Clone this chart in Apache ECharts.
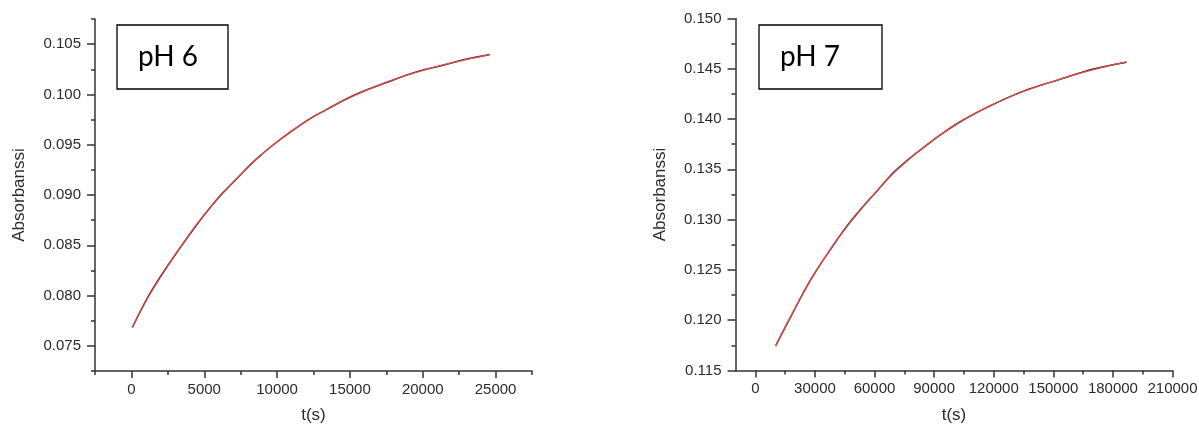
<!DOCTYPE html>
<html>
<head>
<meta charset="utf-8">
<script src="https://cdn.jsdelivr.net/npm/echarts@6/dist/echarts.min.js"></script>
<style>
  html, body { margin: 0; padding: 0; background: #fff; }
  #chart { width: 1199px; height: 426px; }
</style>
</head>
<body>
<div id="chart"></div>
<script>
// pH 6 kinetics: time (s) and absorbance, measured trace and fitted curve
const ph6Time = [70, 1550, 4080, 5800, 7060, 8550, 10040, 12100, 13480, 15310, 17610, 19440, 21270, 23110, 24600];
const ph6Fit  = [0.0769, 0.0808, 0.0863, 0.0894, 0.0914, 0.0935, 0.09535, 0.09742, 0.09858, 0.09990, 0.10127, 0.10215, 0.10289, 0.10350, 0.10395];
const ph6Data = [0.07683, 0.08088, 0.08624, 0.08945, 0.09136, 0.09354, 0.09532, 0.09745, 0.09856, 0.09994, 0.10124, 0.10219, 0.10286, 0.10354, 0.10397];

// pH 7 kinetics
const ph7Time = [10200, 17740, 27790, 37840, 47890, 61300, 71350, 86430, 101500, 118240, 134970, 153400, 170150, 186930];
const ph7Fit  = [0.11742, 0.12036, 0.12396, 0.12708, 0.12976, 0.13289, 0.13496, 0.13747, 0.13950, 0.14134, 0.14274, 0.14398, 0.14492, 0.14568];
const ph7Data = [0.11745, 0.12031, 0.12401, 0.12705, 0.12981, 0.13286, 0.13502, 0.13744, 0.13955, 0.14131, 0.14278, 0.14395, 0.14497, 0.14566];

// Axis ticks and labels
const ph6XMajor = [0, 5000, 10000, 15000, 20000, 25000];
const ph6XMinor = [-2500, 2500, 7500, 12500, 17500, 22500, 27500];
const ph6YMajor = [0.075, 0.080, 0.085, 0.090, 0.095, 0.100, 0.105];
const ph6YMinor = [0.0725, 0.0775, 0.0825, 0.0875, 0.0925, 0.0975, 0.1025, 0.1075];
const ph7XMajor = [0, 30000, 60000, 90000, 120000, 150000, 180000, 210000];
const ph7XMinor = [15000, 45000, 75000, 105000, 135000, 165000, 195000];
const ph7YMajor = [0.115, 0.120, 0.125, 0.130, 0.135, 0.140, 0.145, 0.150];
const ph7YMinor = [0.1175, 0.1225, 0.1275, 0.1325, 0.1375, 0.1425, 0.1475];

const panelLabels = ['pH 6', 'pH 7'];
const xName = 't(s)';
const yName = 'Absorbanssi';

const AXIS_COLOR = '#333';
const LABEL_COLOR = '#2b2b2b';
const FONT = '"Liberation Sans", Arial, sans-serif';

function pair(xs, ys) { return xs.map((x, i) => [x, ys[i]]); }

function majorX(grid, min, max, ticks) {
  return {
    type: 'value', gridIndex: grid, position: 'bottom', min, max,
    name: xName, nameLocation: 'middle', nameGap: 36,
    nameTextStyle: { fontFamily: FONT, fontSize: 17, color: LABEL_COLOR },
    axisLine: { show: true, onZero: false, lineStyle: { color: AXIS_COLOR, width: 1.5 } },
    axisTick: { show: true, customValues: ticks, length: 7, lineStyle: { color: AXIS_COLOR, width: 1.5 } },
    axisLabel: { show: true, customValues: ticks, margin: 11, fontFamily: FONT, fontSize: 15, color: LABEL_COLOR,
                 formatter: v => String(v) },
    splitLine: { show: false }
  };
}
function minorX(grid, min, max, ticks) {
  return {
    type: 'value', gridIndex: grid, position: 'bottom', min, max,
    axisLine: { show: false, onZero: false },
    axisTick: { show: true, customValues: ticks, length: 4, lineStyle: { color: AXIS_COLOR, width: 1.5 } },
    axisLabel: { show: false }, splitLine: { show: false }
  };
}
function majorY(grid, min, max, ticks) {
  return {
    type: 'value', gridIndex: grid, position: 'left', min, max,
    name: yName, nameLocation: 'middle', nameGap: 67, nameRotate: 90,
    nameTextStyle: { fontFamily: FONT, fontSize: 17, color: LABEL_COLOR },
    axisLine: { show: true, onZero: false, lineStyle: { color: AXIS_COLOR, width: 1.5 } },
    axisTick: { show: true, customValues: ticks, length: 8, lineStyle: { color: AXIS_COLOR, width: 1.5 } },
    axisLabel: { show: true, customValues: ticks, margin: 14, fontFamily: FONT, fontSize: 15, color: LABEL_COLOR,
                 formatter: v => v.toFixed(3) },
    splitLine: { show: false }
  };
}
function minorY(grid, min, max, ticks) {
  return {
    type: 'value', gridIndex: grid, position: 'left', min, max,
    axisLine: { show: false, onZero: false },
    axisTick: { show: true, customValues: ticks, length: 4, lineStyle: { color: AXIS_COLOR, width: 1.5 } },
    axisLabel: { show: false }, splitLine: { show: false }
  };
}

function lineSeries(grid, data, color, width, z) {
  return {
    type: 'line', xAxisIndex: grid * 2, yAxisIndex: grid * 2, data,
    smooth: 0.4, showSymbol: false, symbol: 'none', silent: true, z,
    lineStyle: { color, width }
  };
}

function labelBox(x, y, w, h, text, tx) {
  return [
    { type: 'rect', shape: { x, y, width: w, height: h }, z: 100,
      style: { fill: '#fff', stroke: '#000', lineWidth: 1.3 } },
    { type: 'text', x: tx, y: y + h / 2 - 0.5, z: 101,
      style: { text, font: '28px Lato, "Open Sans", sans-serif', fill: '#000', verticalAlign: 'middle', align: 'left' } }
  ];
}

const chart = echarts.init(document.getElementById('chart'), null, { renderer: 'canvas' });
chart.setOption({
  backgroundColor: '#fff',
  animation: false,
  grid: [
    { left: 95, right: 667, top: 19, bottom: 55, containLabel: false, outerBoundsMode: 'none' },
    { left: 735.5, right: 26.5, top: 18.5, bottom: 55.5, containLabel: false, outerBoundsMode: 'none' }
  ],
  xAxis: [
    majorX(0, -2500, 27500, ph6XMajor), minorX(0, -2500, 27500, ph6XMinor),
    majorX(1, -10000, 210000, ph7XMajor), minorX(1, -10000, 210000, ph7XMinor)
  ],
  yAxis: [
    majorY(0, 0.0725, 0.1075, ph6YMajor), minorY(0, 0.0725, 0.1075, ph6YMinor),
    majorY(1, 0.115, 0.150, ph7YMajor), minorY(1, 0.115, 0.150, ph7YMinor)
  ],
  series: [
    lineSeries(0, pair(ph6Time, ph6Data), '#2a2a2a', 1.5, 2),
    lineSeries(0, pair(ph6Time, ph6Fit), '#e24a48', 1.3, 3),
    lineSeries(1, pair(ph7Time, ph7Data), '#2a2a2a', 1.5, 2),
    lineSeries(1, pair(ph7Time, ph7Fit), '#e24a48', 1.3, 3)
  ],
  graphic: [
    ...labelBox(117, 25, 111, 64, panelLabels[0], 138),
    ...labelBox(759, 25, 123, 64, panelLabels[1], 780)
  ]
});
</script>
</body>
</html>
